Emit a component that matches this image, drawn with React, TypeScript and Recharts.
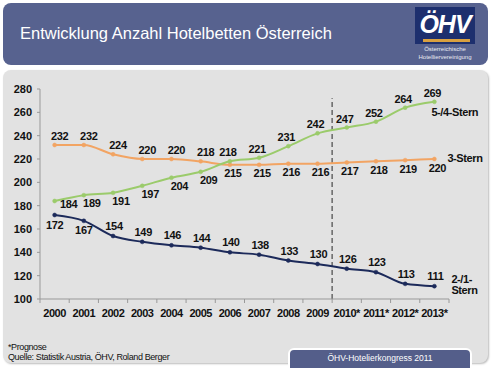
import React from 'react';
import { LineChart, Line, XAxis, YAxis, LabelList, ReferenceLine } from 'recharts';

const years = ['2000', '2001', '2002', '2003', '2004', '2005', '2006', '2007', '2008', '2009', '2010*', '2011*', '2012*', '2013*'];
const stern54 = [184, 189, 191, 197, 204, 209, 218, 221, 231, 242, 247, 252, 264, 269];
const stern3 = [232, 232, 224, 220, 220, 218, 215, 215, 216, 216, 217, 218, 219, 220];
const stern21 = [172, 167, 154, 149, 146, 144, 140, 138, 133, 130, 126, 123, 113, 111];
const yTicks = [100, 120, 140, 160, 180, 200, 220, 240, 260, 280];
const xTicks = [-0.5, 0, 0.5, 1, 1.5, 2, 2.5, 3, 3.5, 4, 4.5, 5, 5.5, 6, 6.5, 7, 7.5, 8, 8.5, 9, 9.5, 10, 10.5, 11, 11.5, 12, 12.5, 13, 13.5];

const data = years.map((year, i) => ({ i, year, g: stern54[i], o: stern3[i], b: stern21[i] }));

const GREEN = '#9bcb6b';
const ORANGE = '#f2a463';
const NAVY = '#1c2a5a';
const FONT = '"Liberation Sans", Arial, sans-serif';

type Off = { dx: number; dy: number };

const makeLabel = (pick: (i: number) => Off) =>
  (props: any) => {
    const { x, y, value, index } = props;
    const o = pick(index);
    return (
      <text x={x + o.dx} y={y + o.dy} textAnchor="middle" dominantBaseline="central"
        fontFamily={FONT} fontSize={11} fontWeight="bold" fill="#111" letterSpacing={-0.3}>{value}</text>
    );
  };

const makeName = (lines: string[], dx: number, dy: number) => (props: any) => {
  const { x, y, index } = props;
  if (index !== years.length - 1) return null;
  return (
    <text x={x + dx} y={y + dy} fontFamily={FONT} fontSize={11} fontWeight="bold" fill="#111" letterSpacing={-0.4} dominantBaseline="central">
      {lines.map((l, k) => (
        <tspan key={k} x={x + dx} dy={k === 0 ? 0 : 11}>{l}</tspan>
      ))}
    </text>
  );
};

const XTick = (props: any) => {
  const { x, y, payload } = props;
  const v = payload.value;
  if (Number.isInteger(v)) {
    return (
      <text x={x} y={y + 14} textAnchor="middle" dominantBaseline="central"
        fontFamily={FONT} fontSize={11} fontWeight="bold" fill="#111" letterSpacing={-0.5}>{years[v]}</text>
    );
  }
  return <line x1={x} x2={x} y1={y} y2={y + 4} stroke="#999" />;
};

const dot = (c: string) => ({ r: 2, fill: c, stroke: c, strokeWidth: 0.5 });

export default function App() {
  return (
    <div style={{ position: 'absolute', left: 0, top: 0, width: 493, height: 368, background: '#fff', overflow: 'hidden', fontFamily: FONT }}>
      {/* header */}
      <div style={{ position: 'absolute', left: 3, top: 3, width: 485, height: 62, background: '#57628f', borderRadius: 8 }} />
      <div style={{ position: 'absolute', left: 20, top: 24, color: '#fff', fontSize: 16.5, whiteSpace: 'nowrap' }}>
        Entwicklung Anzahl Hotelbetten Österreich
      </div>
      <div style={{ position: 'absolute', left: 415, top: 7, width: 60, height: 37, background: '#1d2f6e' }}>
        <div style={{ position: 'absolute', left: 0, top: 3, width: 60, textAlign: 'center', color: '#fff', fontSize: 25, fontWeight: 'bold', fontStyle: 'italic', letterSpacing: -1, lineHeight: '28px' }}>ÖHV</div>
        <div style={{ position: 'absolute', left: 8, top: 32, width: 47, height: 3, background: '#d9a040' }} />
      </div>
      <div style={{ position: 'absolute', left: 410, top: 45, width: 70, textAlign: 'center', color: '#e8eaf2', fontSize: 6, lineHeight: '8px' }}>
        Österreichische<br />Hotelliervereinigung
      </div>

      {/* gray panel */}
      <div style={{ position: 'absolute', left: 3, top: 70, width: 485, height: 293, background: '#e2e2e2', borderRadius: 8, boxShadow: '1px 1px 2px #bbb' }} />

      <div style={{ position: 'absolute', left: 0, top: 0 }}>
        <LineChart width={493} height={368} data={data} margin={{ top: 89, right: 44, bottom: 39, left: 4 }}>
          <XAxis dataKey="i" type="number" domain={[-0.5, 13.5]} ticks={xTicks} interval={0}
            tick={<XTick />} tickLine={false} tickSize={0} tickMargin={0} height={30}
            axisLine={{ stroke: '#999' }} />
          <YAxis type="number" domain={[100, 280]} ticks={yTicks} interval={0} width={36}
            tickSize={3} tickMargin={5} axisLine={{ stroke: '#999' }} tickLine={{ stroke: '#999' }}
            tick={{ fontFamily: FONT, fontSize: 11, fontWeight: 'bold', fill: '#111' }} />
          <ReferenceLine segment={[{ x: 9.5, y: 100 }, { x: 9.5, y: 272 }]} stroke="#666" strokeWidth={1.5} strokeDasharray="5 3" />
          <Line type="monotone" dataKey="o" stroke={ORANGE} strokeWidth={2} dot={dot(ORANGE)} isAnimationActive={false}>
            <LabelList dataKey="o" content={makeLabel((i) => (i < 6 ? { dx: 5, dy: -9 } : { dx: 3, dy: 8.5 }))} />
            <LabelList dataKey="o" content={makeName(['3-Stern'], 13, -1)} />
          </Line>
          <Line type="monotone" dataKey="g" stroke={GREEN} strokeWidth={2} dot={dot(GREEN)} isAnimationActive={false}>
            <LabelList dataKey="g" content={makeLabel((i) => (i === 0 ? { dx: 14, dy: 3 } : i < 6 ? { dx: 8, dy: 8 } : { dx: -2, dy: -9 }))} />
            <LabelList dataKey="g" content={makeName(['5-/4-Stern'], -3, 10)} />
          </Line>
          <Line type="monotone" dataKey="b" stroke={NAVY} strokeWidth={2} dot={dot(NAVY)} isAnimationActive={false}>
            <LabelList dataKey="b" content={makeLabel((i) => (i < 2 ? { dx: 0, dy: 9.5 } : { dx: 1, dy: -10 }))} />
            <LabelList dataKey="b" content={makeName(['2-/1-', 'Stern'], 17, -7)} />
          </Line>
        </LineChart>
      </div>

      {/* footnotes */}
      <div style={{ position: 'absolute', left: 8, top: 342, fontSize: 9, lineHeight: '10px', color: '#111', letterSpacing: -0.4, whiteSpace: 'nowrap' }}>
        *Prognose<br />Quelle: Statistik Austria, ÖHV, Roland Berger
      </div>

      {/* badge */}
      <div style={{ position: 'absolute', left: 288, top: 348, width: 180, height: 18, background: '#545e8a', border: '2px solid #fff', borderRadius: '6px 6px 0 0', color: '#fff', fontSize: 8.5, textAlign: 'center', lineHeight: '17px', whiteSpace: 'nowrap' }}>
        ÖHV-Hotelierkongress 2011
      </div>
    </div>
  );
}
